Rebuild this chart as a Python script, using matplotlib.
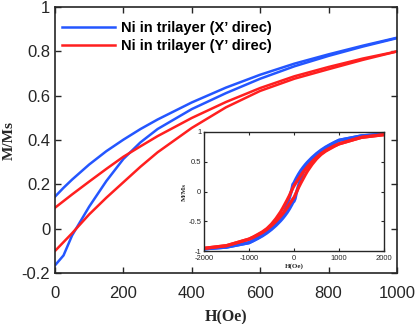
import matplotlib
matplotlib.use("Agg")
import matplotlib.pyplot as plt

# поле H (Oe) для обеих ветвей петли
field = [-2000, -1500, -1000, -900, -800, -700, -600, -500, -400, -300, -250, -200, -150, -100, -50, -25,
         0, 25, 50, 100, 150, 200, 250, 300, 400, 500, 600, 700, 800, 900, 1000, 1500, 2000]

# X' направление: нисходящая и восходящая ветви
x_down = [-0.965, -0.935, -0.86, -0.822, -0.78, -0.733, -0.677, -0.612, -0.54, -0.45, -0.39, -0.315, -0.215, -0.10, 0.03, 0.12,
          0.145, 0.185, 0.222, 0.29, 0.35, 0.402, 0.45, 0.493, 0.57, 0.637, 0.695, 0.745, 0.787, 0.826, 0.862, 0.935, 0.965]
x_up = [-0.965, -0.935, -0.862, -0.826, -0.787, -0.745, -0.695, -0.637, -0.57, -0.493, -0.45, -0.402, -0.35, -0.29, -0.222, -0.185,
        -0.165, -0.12, -0.03, 0.10, 0.215, 0.315, 0.39, 0.45, 0.54, 0.612, 0.677, 0.733, 0.78, 0.822, 0.86, 0.935, 0.965]

# Y' направление
y_down = [-0.955, -0.91, -0.80, -0.762, -0.72, -0.677, -0.622, -0.548, -0.455, -0.345, -0.28, -0.21, -0.14, -0.065, 0.02, 0.06,
          0.095, 0.125, 0.155, 0.213, 0.27, 0.325, 0.372, 0.418, 0.50, 0.572, 0.635, 0.688, 0.73, 0.768, 0.80, 0.91, 0.955]
y_up = [-0.955, -0.91, -0.80, -0.768, -0.73, -0.688, -0.635, -0.572, -0.50, -0.418, -0.372, -0.325, -0.27, -0.213, -0.155, -0.125,
        -0.10, -0.06, -0.02, 0.065, 0.14, 0.21, 0.28, 0.345, 0.455, 0.548, 0.622, 0.677, 0.72, 0.762, 0.80, 0.91, 0.955]

labels = ["Ni in trilayer (X\u2019 direc)", "Ni in trilayer (Y\u2019 direc)"]
blue = "#2456ff"
red = "#ff1f1f"
dark = "#262626"

plt.rcParams["font.family"] = "Liberation Sans"
plt.rcParams["axes.unicode_minus"] = False

fig = plt.figure(figsize=(4.15, 3.24), dpi=100)
ax = fig.add_axes([0.1325, 0.157, 0.824, 0.821])

ax.plot(field, x_down, color=blue, lw=1.8, label=labels[0])
ax.plot(field, x_up, color=blue, lw=1.8)
ax.plot(field, y_down, color=red, lw=1.8, label=labels[1])
ax.plot(field, y_up, color=red, lw=1.8)

ax.set_xlim(0, 1000)
ax.set_ylim(-0.2, 1)
ax.set_xticks([0, 200, 400, 600, 800, 1000])
ax.set_yticks([-0.2, 0, 0.2, 0.4, 0.6, 0.8, 1])
ax.set_yticklabels(["-0.2", "0", "0.2", "0.4", "0.6", "0.8", "1"])
ax.tick_params(direction="in", top=True, right=True, labelsize=12, colors=dark, length=4, width=1)
ax.tick_params(axis="x", pad=9)
ax.tick_params(axis="y", pad=3.5)
for s in ax.spines.values():
    s.set_color(dark)
    s.set_linewidth(1.2)
ax.set_xlabel("H(Oe)", family="Liberation Serif", fontweight="bold", fontsize=11.5, color=dark, labelpad=6)
ax.set_ylabel("M/Ms", family="Liberation Serif", fontweight="bold", fontsize=11, color=dark, labelpad=4)

ax.legend(loc="upper left", bbox_to_anchor=(0.004, 0.97), frameon=False,
          prop={"weight": "bold", "size": 10.5}, handlelength=3.6, handletextpad=0.4,
          borderaxespad=0, labelspacing=0.3)

# вставка с полной петлёй
ins = fig.add_axes([0.4916, 0.2253, 0.4337, 0.3673])
ins.plot(field, x_down, color=blue, lw=2.3)
ins.plot(field, x_up, color=blue, lw=2.3)
ins.plot(field, y_down, color=red, lw=2.3)
ins.plot(field, y_up, color=red, lw=2.3)
ins.set_xlim(-2000, 2000)
ins.set_ylim(-1, 1)
ins.set_xticks([-2000, -1000, 0, 1000, 2000])
ins.set_yticks([-1, -0.5, 0, 0.5, 1])
ins.set_yticklabels(["-1", "-0.5", "0", "0.5", "1"])
ins.tick_params(direction="in", top=True, right=True, labelsize=5.5, colors=dark, length=2, width=0.8)
ins.tick_params(axis="x", pad=3)
ins.tick_params(axis="y", pad=2)
for s in ins.spines.values():
    s.set_color(dark)
    s.set_linewidth(1.0)
ins.set_xlabel("H(Oe)", family="Liberation Serif", fontweight="bold", fontsize=5, color=dark, labelpad=1)
ins.set_ylabel("M/Ms", family="Liberation Serif", fontweight="bold", fontsize=5, color=dark, labelpad=1)

fig.savefig("out.png", dpi=100)
